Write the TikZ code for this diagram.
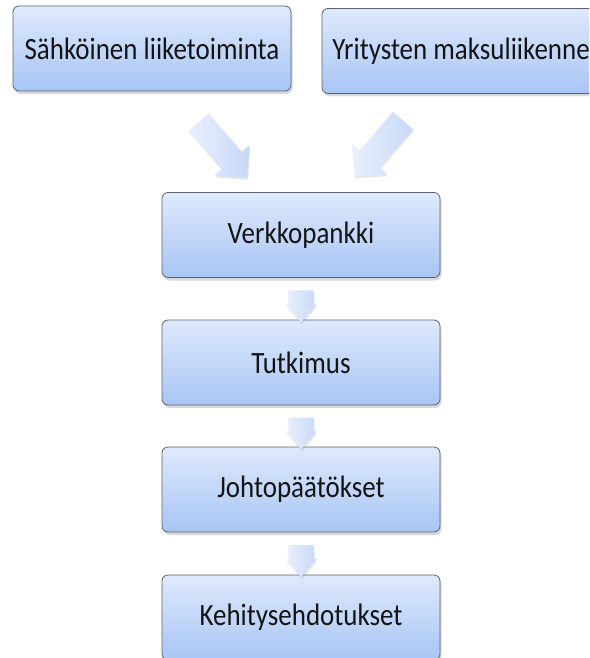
\documentclass[tikz,border=0pt]{standalone}
\usepackage{fontspec}
\setmainfont{Carlito}[FakeStretch=0.87]
\usetikzlibrary{shapes.arrows,shadows,calc}
\definecolor{boxtop}{RGB}{222,233,252}
\definecolor{boxbot}{RGB}{168,197,245}
\definecolor{boxline}{RGB}{95,98,108}
\definecolor{boxtext}{RGB}{20,20,20}
\definecolor{arrtail}{RGB}{234,240,253}
\definecolor{arrhead}{RGB}{198,216,249}
\begin{document}
\begin{tikzpicture}[x=1pt, y=-1pt,
    stage/.style={draw=boxline, line width=0.8pt, rounded corners=6pt,
      top color=boxtop, bottom color=boxbot, text=boxtext,
      minimum width=278pt, minimum height=85pt, inner sep=0pt,
      font=\fontsize{31}{36}\selectfont,
      drop shadow={opacity=0.3, shadow xshift=1.5pt, shadow yshift=-3pt}},
    bigarrow/.style={single arrow, draw=none, left color=arrtail, right color=arrhead,
      inner xsep=0pt, inner ysep=13pt, minimum height=74pt,
      single arrow head extend=10pt, single arrow head indent=0pt,
      drop shadow={opacity=0.2, shadow xshift=1pt, shadow yshift=-2pt}},
    smallarrow/.style={bigarrow, inner ysep=12.5pt, minimum height=32pt,
      single arrow head extend=2.5pt, single arrow tip angle=80}]
    \useasboundingbox (0,0) rectangle (589,658);
    \clip (0,0) rectangle (589,658);
    % inputs
    \node[stage] (sahko) at (152,48.5) {Sähköinen liiketoiminta};
    \node[stage] (yritys) at (461,51) {Yritysten maksuliikenne};
    \node[bigarrow, rotate=-49] (tulo1) at (218.5,145) {};
    \node[bigarrow, rotate=-131] (tulo2) at (383,143.5) {};
    % main flow
    \node[stage] (verkko) at (301,235) {Verkkopankki};
    \node[stage] (tutkimus) at (301,362.5) {Tutkimus};
    \node[stage] (johto) at (301,489.5) {Johtopäätökset};
    \node[stage] (kehitys) at (301,617.5) {Kehitysehdotukset};
    \foreach \a/\b in {verkko/tutkimus, tutkimus/johto, johto/kehitys}
        \node[smallarrow, rotate=-90] at ($(\a.south)!0.5!(\b.north)$) {};
\end{tikzpicture}
\end{document}
